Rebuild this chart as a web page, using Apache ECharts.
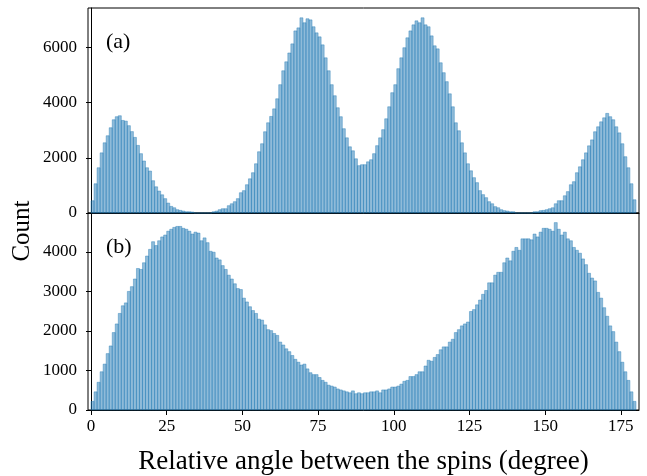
<!DOCTYPE html>
<html>
<head>
<meta charset="utf-8">
<script src="https://cdn.jsdelivr.net/npm/echarts@6/dist/echarts.min.js"></script>
<style>
html,body{margin:0;padding:0;background:#fff;}
#chart{width:647px;height:476px;}
</style>
</head>
<body>
<div id="chart"></div>
<script>
// Histogram bin left edges (degrees), bin width 1
const binWidth = 1;
const binLeft = Array.from({length: 180}, (_, i) => i);

// Panel (a) counts per 1-degree bin
const countsA = [
  445,1060,1640,2180,2545,2800,3090,3380,3490,3525,
  3355,3330,3165,2950,2740,2450,2150,1885,1640,1520,
  1170,950,795,660,520,360,240,190,120,95,
  70,45,45,35,0,0,0,0,0,0,
  45,70,120,155,155,265,335,410,520,735,
  810,1025,1240,1460,1785,2220,2510,2945,3270,3500,
  3775,4140,4650,5155,5480,5800,6130,6600,6710,7075,
  6895,7040,7000,6750,6530,6385,6095,5625,5155,4650,
  4250,3815,3490,3055,2725,2400,2255,1965,1715,1750,
  1750,1855,1930,2150,2440,2725,3020,3415,3850,4360,
  4650,5230,5625,5990,6350,6600,6820,6965,6895,7075,
  6820,6750,6420,6060,5950,5445,5085,4760,4320,3850,
  3270,2980,2545,2180,1785,1530,1280,1100,810,665,
  555,410,335,230,190,120,85,70,45,45,
  0,0,0,0,0,0,45,45,85,95,
  120,155,190,335,445,445,625,775,1025,1135,
  1460,1675,1930,2180,2435,2650,2945,3125,3305,3450,
  3610,3490,3380,3125,2905,2510,2040,1640,1060,480
];

// Panel (b) counts per 1-degree bin
const countsB = [
  218,460,702,968,1162,1428,1622,1961,2179,2445,
  2639,2712,3002,3123,3317,3583,3559,3728,3898,4067,
  4261,4164,4285,4382,4430,4527,4576,4624,4648,4648,
  4600,4576,4527,4455,4503,4479,4285,4358,4237,4019,
  3995,3849,3801,3656,3559,3414,3317,3196,3075,3050,
  2833,2736,2615,2518,2445,2300,2276,2155,2034,2010,
  1937,1888,1719,1646,1549,1477,1380,1283,1210,1138,
  1162,1041,944,896,896,823,750,702,629,605,
  581,533,508,484,460,436,484,412,436,412,
  436,436,460,460,484,436,508,508,533,581,
  581,605,654,726,750,847,847,896,968,968,
  1114,1259,1235,1331,1404,1525,1598,1598,1719,1791,
  1961,2034,2130,2179,2227,2494,2542,2663,2784,2929,
  3026,3220,3220,3414,3486,3486,3728,3849,3777,4019,
  4116,4043,4334,4334,4334,4309,4455,4382,4503,4600,
  4600,4576,4527,4745,4576,4430,4503,4334,4285,4116,
  4043,3970,3825,3680,3462,3341,3268,2978,2833,2590,
  2373,2130,1985,1719,1477,1210,968,750,460,218
];

const xTicks = [0,25,50,75,100,125,150,175];
const yTicksA = [0,2000,4000,6000];
const yTicksB = [0,1000,2000,3000,4000];
const panelLabels = ['(a)','(b)'];
const xTitle = 'Relative angle between the spins (degree)';
const yTitle = 'Count';

const FONT = 'Liberation Serif';
const chart = echarts.init(document.getElementById('chart'), null, {renderer: 'canvas'});

function toData(counts) {
  return binLeft.map((x, i) => [x, x + binWidth, counts[i]]);
}

function renderBar(params, api) {
  const p0 = api.coord([api.value(0), api.value(2)]);
  const p1 = api.coord([api.value(1), 0]);
  return {
    type: 'rect',
    shape: {x: p0[0], y: p0[1], width: p1[0] - p0[0], height: p1[1] - p0[1]},
    style: {fill: 'rgba(31,119,180,0.5)', stroke: 'rgba(31,119,180,0.5)', lineWidth: 0.8}
  };
}

const axisLineStyle = {color: '#000', width: 1};
const plain = v => String(v);
function xAxisCfg(gridIndex, showLabels) {
  return {
    type: 'value', gridIndex, min: -1, max: 181,
    axisLine: {show: true, onZero: false, lineStyle: axisLineStyle},
    axisTick: {show: showLabels, length: 5, lineStyle: axisLineStyle, customValues: xTicks},
    axisLabel: {show: showLabels, customValues: xTicks, formatter: plain, color: '#000', fontFamily: FONT, fontSize: 17, margin: 8},
    splitLine: {show: false},
    name: showLabels ? xTitle : '',
    nameLocation: 'middle', nameGap: 38,
    nameTextStyle: {color: '#000', fontFamily: FONT, fontSize: 27}
  };
}
function yAxisCfg(gridIndex, max, ticks) {
  return {
    type: 'value', gridIndex, min: 0, max,
    axisLine: {show: true, lineStyle: axisLineStyle},
    axisTick: {show: true, length: 5, lineStyle: axisLineStyle, customValues: ticks},
    axisLabel: {customValues: ticks, formatter: plain, color: '#000', fontFamily: FONT, fontSize: 17, margin: 11},
    splitLine: {show: false}
  };
}

chart.setOption({
  animation: false,
  backgroundColor: '#fff',
  grid: [
    {left: 88, right: 8, top: 8, height: 205, show: true, borderColor: '#000', borderWidth: 1, backgroundColor: 'transparent'},
    {left: 88, right: 8, top: 213, height: 206, show: true, borderColor: '#000', borderWidth: 1, backgroundColor: 'transparent'}
  ],
  xAxis: [xAxisCfg(0, false), xAxisCfg(1, true)],
  yAxis: [yAxisCfg(0, 7430, yTicksA), yAxisCfg(1, 4988, yTicksB)],
  series: [
    {type: 'custom', xAxisIndex: 0, yAxisIndex: 0, data: toData(countsA), renderItem: renderBar, encode: {x: [0, 1], y: 2}},
    {type: 'custom', xAxisIndex: 1, yAxisIndex: 1, data: toData(countsB), renderItem: renderBar, encode: {x: [0, 1], y: 2}}
  ],
  graphic: [
    {type: 'text', left: 106, top: 31, style: {text: panelLabels[0], fontFamily: FONT, fontSize: 22, fill: '#000'}},
    {type: 'text', left: 106, top: 236, style: {text: panelLabels[1], fontFamily: FONT, fontSize: 22, fill: '#000'}},
    {type: 'text', x: 22, y: 231, rotation: Math.PI / 2,
     style: {text: yTitle, fontFamily: FONT, fontSize: 25, fill: '#000', align: 'center', verticalAlign: 'middle'}}
  ]
});
</script>
</body>
</html>
